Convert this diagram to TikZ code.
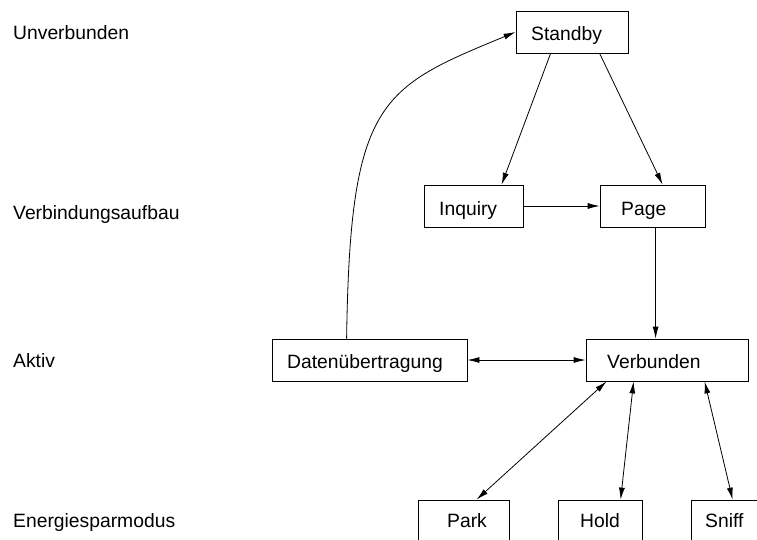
\documentclass[tikz,border=0pt]{standalone}
\usepackage{fontspec}
\setmainfont{Liberation Sans}
\usetikzlibrary{arrows.meta}
\begin{document}
\begin{tikzpicture}[x=1pt,y=-1pt,
  box/.style={draw,line width=0.8pt,rectangle,inner sep=0pt,minimum height=42pt},
  txt/.style={inner sep=0pt,anchor=base west,font=\fontsize{19.3}{23}\selectfont},
  conn/.style={line width=0.8pt,-{Latex[length=12pt,width=6pt]}},
  dconn/.style={line width=0.8pt,{Latex[length=12pt,width=6pt]}-{Latex[length=12pt,width=6pt]}}]
\useasboundingbox (0,0) rectangle (757,539);
\clip (0,0) rectangle (757,539);
% level labels
\node[txt] (l1) at (13,39) {Unverbunden};
\node[txt] (l2) at (13,219) {Verbindungsaufbau};
\node[txt] (l3) at (13,367) {Aktiv};
\node[txt] (l4) at (13,527) {Energiesparmodus};
% boxes
\node[box,minimum width=112pt] (standby) at (572,32) {};
\node[box,minimum width=99pt] (inquiry) at (473.5,206) {};
\node[box,minimum width=105pt] (page) at (652.5,206) {};
\node[box,minimum width=195pt] (daten) at (369.5,360) {};
\node[box,minimum width=162pt] (verbunden) at (667,360) {};
\node[box,minimum width=91pt] (park) at (463.5,521) {};
\node[box,minimum width=84pt] (hold) at (600,521) {};
\node[box,minimum width=85pt] (sniff) at (733.5,521) {};
% box texts
\node[txt] (tstandby) at (531,40) {Standby};
\node[txt] (tinquiry) at (439,215) {Inquiry};
\node[txt] (tpage) at (621,215) {Page};
\node[txt] (tdaten) at (287,368) {Datenübertragung};
\node[txt] (tverbunden) at (607,368) {Verbunden};
\node[txt] (tpark) at (447,527) {Park};
\node[txt] (thold) at (580,527) {Hold};
\node[txt] (tsniff) at (705,527) {Sniff};
% connectors
\draw[conn] ([xshift=35pt]standby.south west) -- ([xshift=78pt]inquiry.north west);
\draw[conn] ([xshift=84pt]standby.south west) -- ([xshift=63pt]page.north west);
\draw[conn] (inquiry.east) -- (page.west);
\draw[conn] ([xshift=56pt]page.south west) -- ([xshift=70pt]verbunden.north west);
\draw[dconn] (daten.east) -- (verbunden.west);
\draw[conn] ([xshift=75pt]daten.north west) .. controls (350,100) and (380,88) .. (standby.west);
\draw[dconn] ([xshift=21pt]verbunden.south west) -- ([xshift=59pt]park.north west);
\draw[dconn] ([xshift=48pt]verbunden.south west) -- ([xshift=63pt]hold.north west);
\draw[dconn] ([xshift=119pt]verbunden.south west) -- ([xshift=42pt]sniff.north west);
\end{tikzpicture}
\end{document}
